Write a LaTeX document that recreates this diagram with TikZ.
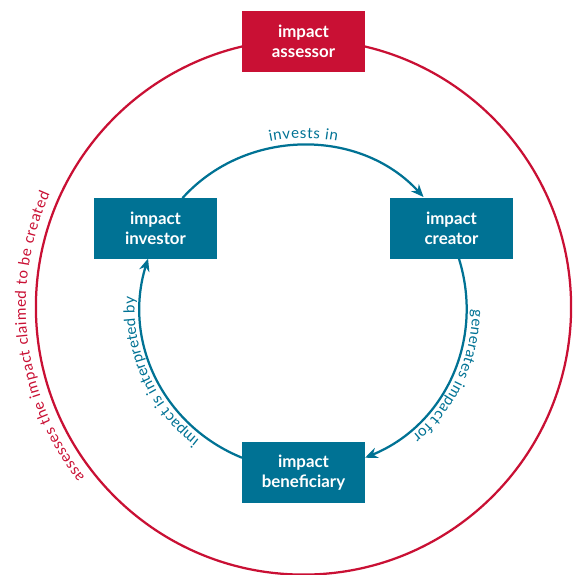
\documentclass[tikz,border=0pt]{standalone}
\usepackage{fontspec}
\setmainfont{Lato}
\usetikzlibrary{arrows.meta,decorations.text}
\definecolor{impblue}{RGB}{0,114,148}
\definecolor{impred}{RGB}{201,16,52}
\newcommand{\boxfont}{\fontsize{12}{14}\selectfont\bfseries}
\newcommand{\arcfont}{\fontsize{10.8}{12}\selectfont}

\begin{document}
\begin{tikzpicture}[
	party/.style={fill=impblue, text=white, font=\boxfont, align=center, inner sep=0pt, minimum width=3.075cm, minimum height=1.525cm},
	flow/.style={impblue, line width=1.6pt, -{Stealth[length=9pt, width=7.5pt]}},
	arclabel/.style 2 args={decorate, decoration={text along path, text align=fit to path, text color=#1, text={|\arcfont|#2}}}]
		\useasboundingbox (-7.5875,-6.7) rectangle (6.7375,7.675);
		\draw[impred, line width=1.6pt] (0,0) circle [radius=6.69];
		\node[party, fill=impred] (assessor) at (0,6.6375) {impact\\assessor};
		\node[party] (investor) at (-3.7,1.97) {impact\\investor};
		\node[party] (creator) at (3.7,1.97) {impact\\creator};
		\node[party] (beneficiary) at (0,-4.1375) {impact\\beneficiary};
		\coordinate (invests-from) at (138:4.07);
		\coordinate (invests-to) at (42.5:4.07);
		\coordinate (generates-from) at (17.3:4.07);
		\coordinate (generates-to) at (-67.8:4.07);
		\coordinate (interpreted-from) at (247.8:4.07);
		\coordinate (interpreted-to) at (162.7:4.07);
		\draw[flow] (invests-from) to[bend left=47.75] (invests-to);
		\draw[flow] (generates-from) to[bend left=42.55] (generates-to);
		\draw[flow] (interpreted-from) to[bend left=42.55] (interpreted-to);
		\path[arclabel={impblue}{invests in}] (101.5:4.225) arc [start angle=101.5, end angle=78.5, radius=4.225];
		\path[arclabel={impblue}{generates impact for}] (-1:4.225) arc [start angle=-1, end angle=-50, radius=4.225];
		\path[arclabel={impblue}{impact is interpreted by}] (232:4.225) arc [start angle=232, end angle=176.5, radius=4.225];
		\path[arclabel={impred}{assesses the impact claimed to be created}] (218:6.94) arc [start angle=218, end angle=156, radius=6.94];
	\end{tikzpicture}
\end{document}
